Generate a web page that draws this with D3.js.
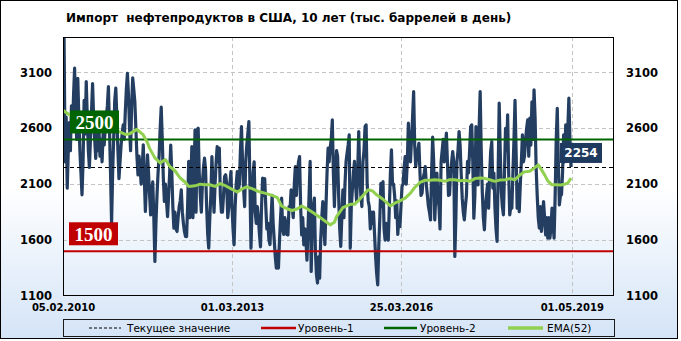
<!DOCTYPE html>
<html><head><meta charset="utf-8">
<script src="https://cdn.jsdelivr.net/npm/d3@7"></script>
<style>body{margin:0;background:#fff}svg{display:block}</style>
</head><body><svg id="c" width="681" height="341" font-family="DejaVu Sans"></svg>
<script>
const titleText = "Импорт  нефтепродуктов в США, 10 лет (тыс. баррелей в день)";
const startDate = "05.02.2010";
const endDate = "05.02.2020";
const importValues = [
2700,3420,2300,2700,2065,2400,2650,2400,2800,2600,
2900,3137,2700,2500,3047,2700,2400,2200,2005,2300,
2850,2550,3018,2700,2400,2250,2500,2750,3000,2700,
2500,2330,2600,2400,2600,2350,2500,2300,2550,2450,
2600,2700,2800,2973,2600,2200,1751,2200,2510,2850,
2960,2700,2400,2150,2300,2450,2550,2630,2500,2750,
2950,3092,2900,2600,2400,2800,3050,2950,2840,2600,
2350,2183,2350,2250,2100,2250,2452,2150,1856,2100,
2362,2200,2000,1826,2050,2120,1800,1409,1750,2000,
2200,2350,2600,2790,2500,2150,1945,2100,1950,1810,
2000,2200,2450,2213,1900,1707,1850,1700,1677,1800,
1900,1950,2049,1850,1750,1677,1632,1631,1900,2303,
1800,2100,2436,1800,2100,2585,1850,2586,2600,2200,
2000,1850,2100,2250,2333,2227,1900,1650,1528,1800,
2000,2347,2078,1850,2100,2300,2436,2300,2422,2000,
1850,1850,2000,2168,2184,2100,1800,1900,2100,2213,
1900,1700,1558,1900,2100,2213,2050,2100,2400,2615,
2300,2050,1900,2300,2450,2550,2660,2100,1528,1900,
2200,2300,1850,1750,1900,1800,1650,1540,1900,2154,
2000,2150,1900,1700,1750,1600,1560,1800,2000,1750,
1600,1450,1349,1500,1350,1600,1800,1975,1700,1650,
1800,1750,1650,1646,1900,1880,2050,1900,1800,2100,
2258,2000,2200,2300,2347,1900,1646,1800,1558,1700,
1600,1420,1700,2000,2303,1319,1750,1900,1975,1500,
1290,1216,1450,1260,1600,1800,1945,1700,1560,1900,
2200,2422,2300,2430,2500,2675,2200,1900,2200,2400,
2350,2000,1700,1543,1800,2050,1800,2100,2300,2380,
2450,2541,1528,1900,2050,2200,2303,2100,1950,2200,
2571,2200,2000,1900,2300,2400,2615,2630,2100,1950,
1900,1700,1850,1750,1850,1650,1450,1300,1199,1550,
1800,2108,1900,2124,1700,1600,1750,1650,1600,1900,
2200,2407,2100,2100,2000,1800,1950,1650,1800,1721,
1900,2080,2100,2250,2347,2100,2300,2645,2400,2300,
2500,2700,2928,2450,2257,2350,2400,2466,2200,2000,
2020,2150,2200,2257,2100,1999,1900,1850,1780,2200,
2520,2300,1781,2000,2200,2000,1900,1700,2300,2400,
2500,2300,2400,2556,2300,2000,2005,2200,2300,2392,
2300,1453,1800,2300,2400,2571,2450,2200,1975,1850,
1781,1900,2000,2303,2200,2400,2615,2630,2300,1796,
2000,2615,2300,2094,2600,2928,2400,2035,1800,1692,
1900,2005,2100,1885,2200,2400,2481,2065,2200,1885,
1700,1588,2200,2824,2400,2035,1900,1826,2200,2600,
2400,2720,2200,1826,1900,1885,2200,2500,2850,2400,
1885,2100,1855,2100,2300,2541,2300,2350,2500,2600,
2675,2350,2690,2450,2835,2500,2943,2700,2243,2000,
1800,1707,1900,1677,1800,1945,1800,1647,1800,1617,
1800,1617,1700,1885,1750,1617,2000,2500,2779,2300,
1915,2000,2005,2200,2541,2300,2630,2400,2600,2869,
2500,2254
];
const emaWeeks = [0,7,16,26,35,45,52,59,63,70,76,80,82,87,92,97,101,106,111,116,119,125,130,134,139,144,149,153,158,165,170,174,179,185,191,198,203,207,212,217,222,226,231,237,243,248,253,257,259,265,272,276,281,286,289,293,297,303,307,310,314,319,324,329,333,338,343,348,352,357,362,366,371,376,381,385,390,395,400,404,409,414,419,423,428,433,437,442,447,450,453,456,459,463,467,471,475,478,481];
const emaValues = [2760,2715,2680,2640,2610,2585,2575,2545,2550,2590,2540,2470,2420,2335,2290,2320,2260,2220,2155,2115,2080,2085,2100,2095,2095,2080,2105,2090,2065,2030,2060,2075,2060,2035,2020,2000,1980,1905,1880,1865,1880,1905,1880,1845,1805,1770,1736,1760,1810,1890,1920,1920,1965,2020,2050,2040,2005,1965,1930,1905,1930,1950,1975,2020,2070,2115,2135,2135,2140,2135,2125,2140,2140,2130,2135,2125,2150,2155,2150,2140,2125,2138,2140,2150,2140,2185,2210,2215,2250,2272,2230,2183,2130,2094,2095,2093,2100,2110,2154];
const yTicks = [1100,1600,2100,2600,3100];
const xTickLabels = ["05.02.2010","01.03.2013","25.03.2016","01.05.2019"];
const level1 = 1500;
const level2 = 2500;
const currentValue = 2254;
const legendLabels = ["Текущее значение","Уровень-1","Уровень-2","EMA(52)"];

const parse = d3.utcParse("%d.%m.%Y");
const t0 = parse(startDate);
const dates = importValues.map((v,i)=>d3.utcDay.offset(t0, 7*i));
const series = importValues.map((v,i)=>({d:dates[i], v}));
const ema = emaWeeks.map((w,i)=>({d:d3.utcDay.offset(t0, 7*w), v:emaValues[i]}));

const L=63, R=614, T=37, B=296;
const x = d3.scaleUtc().domain([t0, parse(endDate)]).range([L,R]);
const y = d3.scaleLinear().domain([1100, 3416]).range([B,T]);

const svg = d3.select("#c");
const defs = svg.append("defs");
const g = defs.append("linearGradient").attr("id","bg").attr("x1",0).attr("y1",0).attr("x2",0).attr("y2",1);
g.append("stop").attr("offset","0%").attr("stop-color","#ffffff");
g.append("stop").attr("offset","55%").attr("stop-color","#ffffff");
g.append("stop").attr("offset","100%").attr("stop-color","#d4e4f7");
defs.append("clipPath").attr("id","clip").append("rect").attr("x",L).attr("y",T).attr("width",R-L).attr("height",B-T);

svg.append("rect").attr("x",0.5).attr("y",0.5).attr("width",677).attr("height",338)
  .attr("fill","url(#bg)").attr("stroke","#000").attr("stroke-width",1);

svg.append("text").attr("x",66).attr("y",22).attr("font-size",12).attr("font-weight","bold")
  .attr("fill","#000").attr("xml:space","preserve").style("white-space","pre").text(titleText);

// gridlines
const grid = svg.append("g").attr("stroke","#c4c4c4").attr("stroke-dasharray","4,3").attr("stroke-width",1);
yTicks.filter(v=>v>1100).forEach(v=>{
  grid.append("line").attr("x1",L).attr("x2",R).attr("y1",Math.round(y(v))+0.5).attr("y2",Math.round(y(v))+0.5);
});
xTickLabels.slice(1).forEach(s=>{
  const xx = Math.round(x(parse(s)))+0.5;
  grid.append("line").attr("x1",xx).attr("x2",xx).attr("y1",T).attr("y2",B);
});

const plot = svg.append("g").attr("clip-path","url(#clip)");
const line = d3.line().x(d=>x(d.d)).y(d=>y(d.v));
plot.append("path").datum(series).attr("d",line).attr("fill","none")
  .attr("stroke","#243e61").attr("stroke-width",3.2).attr("stroke-linejoin","round");

// level lines
plot.append("line").attr("x1",L).attr("x2",R).attr("y1",y(level2)).attr("y2",y(level2)).attr("stroke","#006400").attr("stroke-width",2);
plot.append("line").attr("x1",L).attr("x2",R).attr("y1",y(level1)).attr("y2",y(level1)).attr("stroke","#c00000").attr("stroke-width",2);
plot.append("line").attr("x1",L).attr("x2",R).attr("y1",Math.round(y(currentValue))+0.5).attr("y2",Math.round(y(currentValue))+0.5)
  .attr("stroke","#000").attr("stroke-width",1).attr("stroke-dasharray","4,3");

plot.append("path").datum(ema).attr("d",line).attr("fill","none")
  .attr("stroke","#92d050").attr("stroke-width",3).attr("stroke-linejoin","round");

// plot frame
svg.append("rect").attr("x",L+0.5).attr("y",T+0.5).attr("width",R-L-1).attr("height",B-T-1)
  .attr("fill","none").attr("stroke","#000").attr("stroke-width",1);

// axes
const yl = d3.axisLeft(y).tickValues(yTicks).tickFormat(d3.format("d")).tickSize(0).tickPadding(11);
const yr = d3.axisRight(y).tickValues(yTicks).tickFormat(d3.format("d")).tickSize(0).tickPadding(12);
const ga = svg.append("g").attr("transform",`translate(${L},0)`).call(yl);
const gb = svg.append("g").attr("transform",`translate(${R},0)`).call(yr);
[ga,gb].forEach(a=>{a.select(".domain").remove(); a.selectAll("text").style("font-size","11.5px").style("font-weight","bold").attr("fill","#000").style("font-family","DejaVu Sans");});
const xa = d3.axisBottom(x).tickValues(xTickLabels.map(parse)).tickFormat(d3.utcFormat("%d.%m.%Y")).tickSize(0).tickPadding(8);
const gx = svg.append("g").attr("transform",`translate(0,${B})`).call(xa);
gx.select(".domain").remove();
gx.selectAll("text").style("font-size","10px").style("font-weight","bold").attr("fill","#000").style("font-family","DejaVu Sans");

// level labels
function tag(val, txt, fill, x0, w, h, gap, font, fs){
  const yy = y(val);
  svg.append("rect").attr("x",x0).attr("y",yy-gap-h).attr("width",w).attr("height",h).attr("fill",fill);
  svg.append("text").attr("x",x0+w/2).attr("y",yy-gap-h/2).attr("dy","0.36em").attr("text-anchor","middle")
    .attr("fill","#fff").style("font-weight","bold").style("font-size",fs+"px").style("font-family",font).text(txt);
}
tag(level2, String(level2), "#006400", 70, 49, 23, 6, "Liberation Serif", 19);
tag(level1, String(level1), "#c00000", 69, 49, 23, 6, "Liberation Serif", 19);
tag(currentValue, String(currentValue), "#1f3a5f", 560, 42, 20, 4, "DejaVu Sans", 12);

// legend
const lg = svg.append("g");
lg.append("rect").attr("x",63.5).attr("y",319.5).attr("width",551).attr("height",17).attr("fill","none").attr("stroke","#1a1a1a");
const ly = 328;
const items = [
  {x1:89,x2:121,tx:127,stroke:"#000",w:1,dash:"3,2"},
  {x1:261,x2:296,tx:298,stroke:"#c00000",w:2.5,dash:null},
  {x1:384,x2:417,tx:420,stroke:"#006400",w:2.5,dash:null},
  {x1:508,x2:543,tx:547,stroke:"#92d050",w:3.5,dash:null}
];
items.forEach((it,i)=>{
  const l = lg.append("line").attr("x1",it.x1).attr("x2",it.x2).attr("y1",ly).attr("y2",ly).attr("stroke",it.stroke).attr("stroke-width",it.w);
  if(it.dash) l.attr("stroke-dasharray",it.dash);
  lg.append("text").attr("x",it.tx).attr("y",ly).attr("dy","0.35em").attr("font-size",10.5).attr("fill","#000").text(legendLabels[i]);
});
</script></body></html>
